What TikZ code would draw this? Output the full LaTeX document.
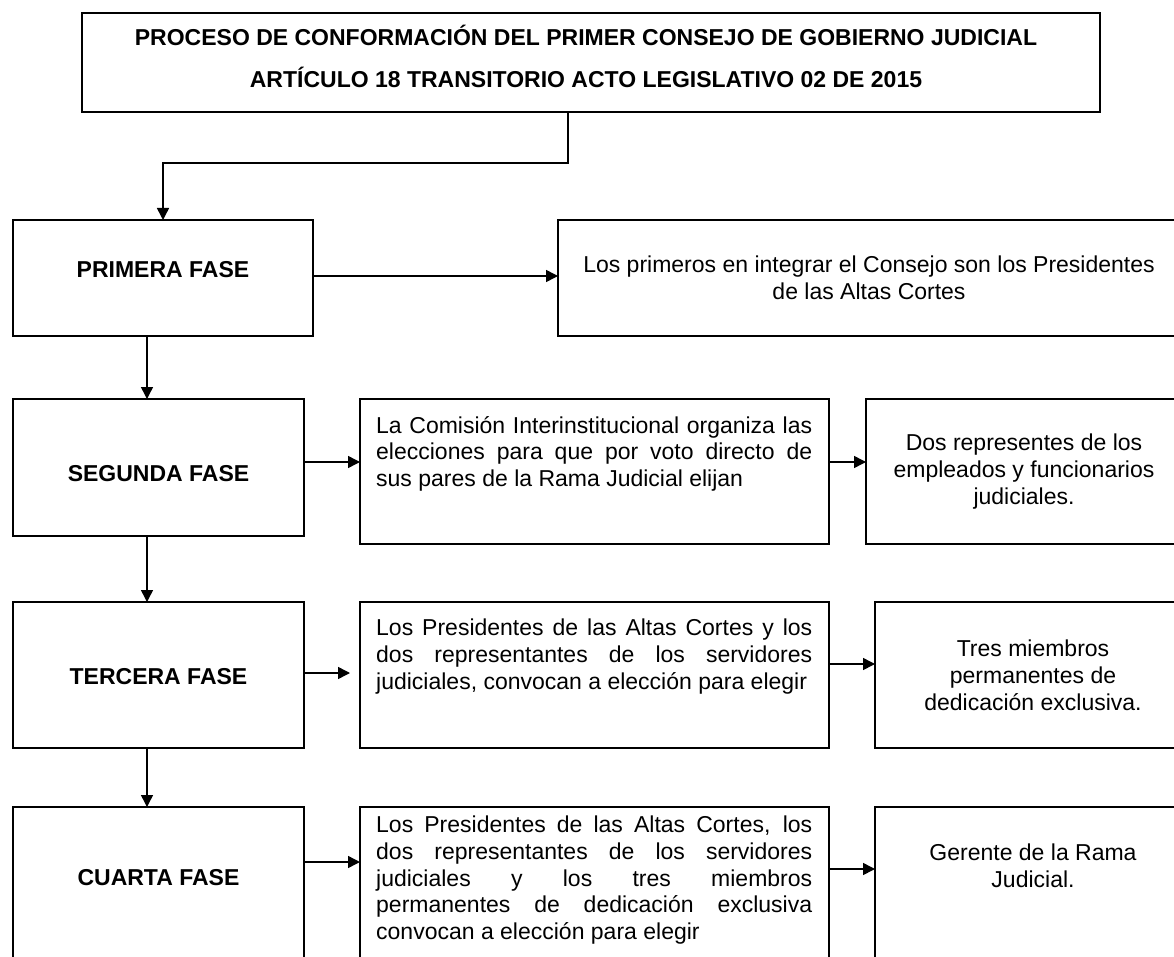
\documentclass[tikz,border=0pt]{standalone}
\usepackage{fontspec}
\setmainfont{Liberation Sans}
\usetikzlibrary{arrows.meta,positioning,calc}

\begin{document}
\begin{tikzpicture}[x=1pt,y=-1pt,
        box/.style={draw,rectangle,line width=1.5pt,inner sep=0pt,outer sep=0pt},
        lbl/.style={inner sep=0pt,font=\bfseries\fontsize{23}{27}\selectfont},
        txt/.style={inner sep=0pt,align=center,font=\fontsize{23}{27}\selectfont},
        jtxt/.style={inner sep=0pt,anchor=north west,text width=436pt,align=justify,
                     font=\fontsize{23}{26.6}\selectfont},
        arr/.style={line width=1.5pt,-{Triangle[length=12pt,width=12pt]}}]
   \clip (0,0) rectangle (1174,957);

   % title
   \node[box,minimum width=1018pt,minimum height=99pt] (title) at (591,62.5) {};
   \node[lbl,align=center,font=\bfseries\fontsize{23}{42}\selectfont] (titletxt) at (586,56)
        {PROCESO DE CONFORMACIÓN DEL PRIMER CONSEJO DE GOBIERNO JUDICIAL\\
         ARTÍCULO 18 TRANSITORIO ACTO LEGISLATIVO 02 DE 2015};

   % fases
   \node[box,minimum width=300pt,minimum height=116pt] (pri) at (163,278) {};
   \node[box,minimum width=291pt,minimum height=137pt] (seg) at (158.5,467.5) {};
   \node[box,minimum width=291pt,minimum height=146pt] (ter) at (158.5,675) {};
   \node[box,minimum width=291pt,minimum height=203pt] (cua) at (158.5,908.5) {};
   \node[lbl] (prilbl) at (163,270) {PRIMERA FASE};
   \node[lbl] (seglbl) at (158.5,474) {SEGUNDA FASE};
   \node[lbl] (terlbl) at (158.5,677) {TERCERA FASE};
   \node[lbl] (cualbl) at (158.5,878) {CUARTA FASE};

   % middle column
   \node[box,minimum width=469pt,minimum height=145pt] (segm) at (594.5,471.5) {};
   \node[box,minimum width=469pt,minimum height=146pt] (term) at (594.5,675) {};
   \node[box,minimum width=469pt,minimum height=203pt] (cuam) at (594.5,908.5) {};
   \node[jtxt] (segmtxt) at (376,416) {La Comisión Interinstitucional organiza las \linebreak
        elecciones para que por voto directo de \linebreak sus pares de la Rama Judicial elijan};
   \node[jtxt] (termtxt) at (376,619) {Los Presidentes de las Altas Cortes y los \linebreak
        dos representantes de los servidores \linebreak judiciales, convocan a elección para elegir};
   \node[jtxt] (cuamtxt) at (376,816) {Los Presidentes de las Altas Cortes, los \linebreak
        dos representantes de los servidores \linebreak judiciales y los tres miembros \linebreak
        permanentes de dedicación exclusiva \linebreak convocan a elección para elegir};

   % right column
   \node[box,txt,minimum width=622pt,minimum height=116pt] (prir) at (869,278)
        {Los primeros en integrar el Consejo son los Presidentes\\de las Altas Cortes};
   \node[box,txt,minimum width=316pt,minimum height=145pt] (segr) at (1024,471.5)
        {Dos representes de los\\empleados y funcionarios\\judiciales.};
   \node[box,txt,minimum width=316pt,minimum height=146pt] (terr) at (1033,675)
        {Tres miembros\\permanentes de\\dedicación exclusiva.};
   \node[box,minimum width=316pt,minimum height=203pt] (cuar) at (1033,908.5) {};
   \node[txt] (cuartxt) at (1033,866) {Gerente de la Rama\\Judicial.};

   % connectors
   \draw[arr] (title.south -| 568,0) -- ++(0,51) -| (pri.north);
   \draw[arr] (pri.east |- 0,276) -- (prir.west |- 0,276);
   \draw[arr] (pri.south -| 147,0) -- (seg.north -| 147,0);
   \draw[arr] (seg.south -| 147,0) -- (ter.north -| 147,0);
   \draw[arr] (ter.south -| 147,0) -- (cua.north -| 147,0);
   \draw[arr] (seg.east |- 0,462) -- (segm.west |- 0,462);
   \draw[arr] (segm.east |- 0,462) -- (segr.west |- 0,462);
   \draw[arr] (ter.east |- 0,673) -- ($(term.west |- 0,673)+(-10,0)$);
   \draw[arr] (term.east |- 0,664) -- (terr.west |- 0,664);
   \draw[arr] (cua.east |- 0,862) -- (cuam.west |- 0,862);
   \draw[arr] (cuam.east |- 0,869) -- (cuar.west |- 0,869);
\end{tikzpicture}
\end{document}
